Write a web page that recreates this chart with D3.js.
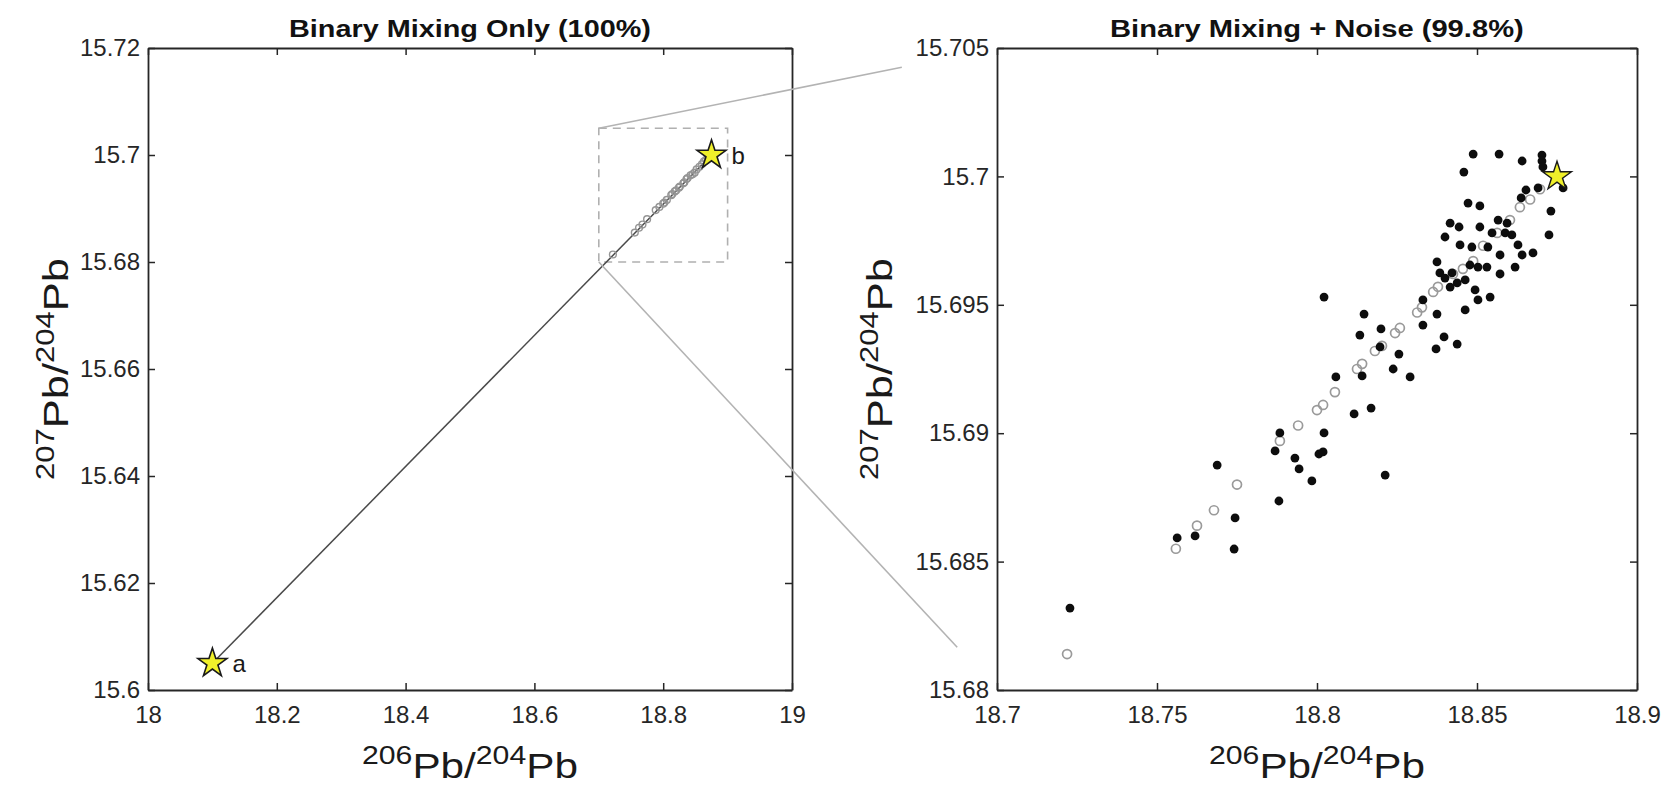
<!DOCTYPE html>
<html><head><meta charset="utf-8">
<script src="https://cdn.jsdelivr.net/npm/d3@7"></script>
<style>
body{margin:0;background:#fff;}
text{font-family:"Liberation Sans",Arial,Helvetica,sans-serif;}
</style>
</head><body>
<svg id="c" width="1671" height="795"></svg>
<script>
// ---------------- data ----------------
const titles = ["Binary Mixing Only (100%)", "Binary Mixing + Noise (99.8%)"];
const endmemberX = [18.1, 18.875];
const endmemberY = [15.605, 15.700];
const endmemberLabel = ["a", "b"];

// binary mixing points (grey open circles)
const mixX = [18.7219, 18.7559, 18.7625, 18.7678, 18.7750, 18.7884, 18.7941, 18.8000, 18.8019, 18.8056,
              18.8125, 18.8141, 18.8181, 18.8203, 18.8244, 18.8259, 18.8313, 18.8328, 18.8363, 18.8378,
              18.8425, 18.8456, 18.8488, 18.8519, 18.8563, 18.8603, 18.8634, 18.8666, 18.8697];
const mixY = [15.6814, 15.6855, 15.6864, 15.6870, 15.6880, 15.6897, 15.6903, 15.6909, 15.6911, 15.6916,
              15.6925, 15.6927, 15.6932, 15.6934, 15.6939, 15.6941, 15.6947, 15.6949, 15.6955, 15.6957,
              15.6962, 15.6964, 15.6967, 15.6973, 15.6978, 15.6983, 15.6988, 15.6991, 15.6995];

// mixing + noise points (black dots)
const noiseX = [18.7228, 18.7563, 18.7619, 18.7688, 18.7741, 18.7744, 18.7869, 18.7881, 18.7884, 18.7931,
                18.7944, 18.7984, 18.8006, 18.8019, 18.8022, 18.8116, 18.8169, 18.8213, 18.8022, 18.8147,
                18.8134, 18.8200, 18.8197, 18.8256, 18.8238, 18.8291, 18.8141, 18.8059, 18.8331, 18.8331,
                18.8375, 18.8397, 18.8438, 18.8372, 18.8463, 18.8503, 18.8541, 18.8494, 18.8416, 18.8488,
                18.8569, 18.8459, 18.8641, 18.8703, 18.8703, 18.8706, 18.8472, 18.8509, 18.8653, 18.8638,
                18.8416, 18.8444, 18.8509, 18.8566, 18.8594, 18.8400, 18.8547, 18.8588, 18.8609, 18.8447,
                18.8484, 18.8534, 18.8628, 18.8572, 18.8675, 18.8641, 18.8725, 18.8731, 18.8769, 18.8691,
                18.8375, 18.8478, 18.8503, 18.8531, 18.8619, 18.8384, 18.8422, 18.8400, 18.8438, 18.8463,
                18.8572];
const noiseY = [15.68319, 15.68592, 15.68600, 15.68876, 15.68549, 15.68670, 15.68931, 15.68736, 15.69001, 15.68903,
                15.68861, 15.68814, 15.68919, 15.68927, 15.69001, 15.69075, 15.69098, 15.68837, 15.69530, 15.69464,
                15.69382, 15.69406, 15.69336, 15.69308, 15.69250, 15.69219, 15.69223, 15.69219, 15.69519, 15.69421,
                15.69464, 15.69375, 15.69347, 15.69328, 15.69480, 15.69519, 15.69530, 15.69558, 15.69569, 15.70087,
                15.70087, 15.70017, 15.70060, 15.70083, 15.70060, 15.70037, 15.69896, 15.69885, 15.69947, 15.69916,
                15.69818, 15.69803, 15.69803, 15.69830, 15.69818, 15.69764, 15.69780, 15.69780, 15.69772, 15.69733,
                15.69725, 15.69725, 15.69733, 15.69694, 15.69702, 15.69694, 15.69772, 15.69865, 15.69955, 15.69955,
                15.69667, 15.69655, 15.69647, 15.69647, 15.69647, 15.69624, 15.69624, 15.69604, 15.69585, 15.69597,
                15.69620];

const leftXDomain = [18, 19];
const leftYDomain = [15.6, 15.72];
const rightXDomain = [18.7, 18.9];
const rightYDomain = [15.68, 15.705];
const leftXTicks = [18, 18.2, 18.4, 18.6, 18.8, 19];
const leftYTicks = [15.6, 15.62, 15.64, 15.66, 15.68, 15.7, 15.72];
const rightXTicks = [18.7, 18.75, 18.8, 18.85, 18.9];
const rightYTicks = [15.68, 15.685, 15.69, 15.695, 15.7, 15.705];
const zoomBoxX = [18.7, 18.9];
const zoomBoxY = [15.68, 15.705];

// ---------------- drawing ----------------
const svg = d3.select("#c");
svg.append("rect").attr("width", 1671).attr("height", 795).attr("fill", "#fff");

const AX = "#262626";
const panels = [
  {x0: 148, x1: 792, y0: 48, y1: 690, xd: leftXDomain, yd: leftYDomain, xt: leftXTicks, yt: leftYTicks, ylabX: 68, title: titles[0], titleW: 362, ylabW: 222},
  {x0: 997, x1: 1637, y0: 48, y1: 690, xd: rightXDomain, yd: rightYDomain, xt: rightXTicks, yt: rightYTicks, ylabX: 892, title: titles[1], titleW: 414, ylabW: 222}
];
panels.forEach(p => {
  p.x = d3.scaleLinear().domain(p.xd).range([p.x0, p.x1]);
  p.y = d3.scaleLinear().domain(p.yd).range([p.y1, p.y0]);
});
const L = panels[0], R = panels[1];

function styleAxis(g, showLabels) {
  g.select(".domain").attr("stroke", AX).attr("stroke-width", 1.8);
  g.selectAll(".tick line").attr("stroke", AX).attr("stroke-width", 1.5);
  g.selectAll(".tick text").attr("fill", AX).attr("font-size", 24)
    .attr("font-family", '"Liberation Sans", Arial, sans-serif');
  if (!showLabels) g.selectAll(".tick text").remove();
}

function drawAxes(p) {
  const fmt = d3.format("");
  const gB = svg.append("g").attr("transform", `translate(0,${p.y1})`)
    .call(d3.axisBottom(p.x).tickValues(p.xt).tickSizeInner(-7).tickSizeOuter(0).tickPadding(16).tickFormat(d => fmt(+d.toFixed(3))));
  styleAxis(gB, true);
  const gT = svg.append("g").attr("transform", `translate(0,${p.y0})`)
    .call(d3.axisTop(p.x).tickValues(p.xt).tickSizeInner(-7).tickSizeOuter(0));
  styleAxis(gT, false);
  const gL = svg.append("g").attr("transform", `translate(${p.x0},0)`)
    .call(d3.axisLeft(p.y).tickValues(p.yt).tickSizeInner(-7).tickSizeOuter(0).tickPadding(8).tickFormat(d => fmt(+d.toFixed(3))));
  styleAxis(gL, true);
  const gR = svg.append("g").attr("transform", `translate(${p.x1},0)`)
    .call(d3.axisRight(p.y).tickValues(p.yt).tickSizeInner(-7).tickSizeOuter(0));
  styleAxis(gR, false);
}

function addIsoText(t, sup1, sup2) {
  t.append("tspan").attr("font-size", 25).attr("dy", -14).text(sup1);
  t.append("tspan").attr("font-size", 35).attr("dy", 14).text("Pb/");
  t.append("tspan").attr("font-size", 25).attr("dy", -14).text(sup2);
  t.append("tspan").attr("font-size", 35).attr("dy", 14).text("Pb");
}

function drawLabels(p) {
  const tt = svg.append("text").attr("font-weight", "bold").attr("font-size", 24)
    .attr("fill", "#111").text(p.title);
  const tw = tt.node().getComputedTextLength();
  const tk = p.titleW / tw;
  tt.attr("transform", `translate(${(p.x0 + p.x1) / 2 - tk * tw / 2},37) scale(${tk},1)`);

  const xl = svg.append("text").attr("fill", "#1a1a1a");
  addIsoText(xl, "206", "204");
  const xw = xl.node().getBBox().width;
  const xk = 216 / xw;
  xl.attr("transform", `translate(${(p.x0 + p.x1) / 2 - xk * xw / 2},778) scale(${xk},1)`);

  const yl = svg.append("text").attr("fill", "#1a1a1a");
  addIsoText(yl, "207", "204");
  const yw = yl.node().getBBox().width;
  const yk = p.ylabW / yw;
  yl.attr("transform", `translate(${p.ylabX},${(p.y0 + p.y1) / 2}) rotate(-90) translate(${-yk * yw / 2},0) scale(${yk},1)`);
}

const star = d3.symbol(d3.symbolStar, 260);

// ---- left panel ----
(function () {
  const p = L;
  svg.append("rect")
    .attr("x", p.x(zoomBoxX[0])).attr("y", p.y(zoomBoxY[1]))
    .attr("width", p.x(zoomBoxX[1]) - p.x(zoomBoxX[0]))
    .attr("height", p.y(zoomBoxY[0]) - p.y(zoomBoxY[1]))
    .attr("fill", "none").attr("stroke", "#b0b0b0").attr("stroke-width", 1.6)
    .attr("stroke-dasharray", "8,6");
  svg.append("path")
    .attr("d", d3.line().x(d => p.x(d[0])).y(d => p.y(d[1]))(endmemberX.map((v, i) => [v, endmemberY[i]])))
    .attr("fill", "none").attr("stroke", "#4a4a4a").attr("stroke-width", 1.5);
  svg.append("g").selectAll("circle").data(mixX).join("circle")
    .attr("cx", d => p.x(d)).attr("cy", (d, i) => p.y(mixY[i])).attr("r", 3.4)
    .attr("fill", "none").attr("stroke", "#959595").attr("stroke-width", 1.4);
  svg.append("g").selectAll("path").data(endmemberX).join("path")
    .attr("d", star)
    .attr("transform", (d, i) => `translate(${p.x(d)},${p.y(endmemberY[i])})`)
    .attr("fill", "#f0f02a").attr("stroke", "#1a1a1a").attr("stroke-width", 1.6);
  svg.append("g").selectAll("text").data(endmemberLabel).join("text")
    .attr("x", (d, i) => p.x(endmemberX[i]) + 20)
    .attr("y", (d, i) => p.y(endmemberY[i]) + 9)
    .attr("font-size", 24).attr("fill", "#1a1a1a").text(d => d);
  drawAxes(p);
  drawLabels(p);
})();

// ---- connector lines ----
(function () {
  const sx = L.x(zoomBoxX[0]);
  const top = [sx, L.y(zoomBoxY[1])], bot = [sx, L.y(zoomBoxY[0])];
  const tgtTop = [R.x0, R.y0], tgtBot = [R.x0, R.y1];
  const tTop = 0.761, tBot = 0.90;
  [[top, tgtTop, tTop], [bot, tgtBot, tBot]].forEach(([a, b, t]) => {
    svg.append("line")
      .attr("x1", a[0]).attr("y1", a[1])
      .attr("x2", a[0] + (b[0] - a[0]) * t).attr("y2", a[1] + (b[1] - a[1]) * t)
      .attr("stroke", "#b3b3b3").attr("stroke-width", 1.6);
  });
})();

// ---- right panel ----
(function () {
  const p = R;
  svg.append("g").selectAll("circle").data(mixX).join("circle")
    .attr("cx", d => p.x(d)).attr("cy", (d, i) => p.y(mixY[i])).attr("r", 4.5)
    .attr("fill", "none").attr("stroke", "#9a9a9a").attr("stroke-width", 1.7);
  svg.append("g").selectAll("circle").data(noiseX).join("circle")
    .attr("cx", d => p.x(d)).attr("cy", (d, i) => p.y(noiseY[i])).attr("r", 4.4)
    .attr("fill", "#0d0d0d");
  svg.append("path").attr("d", star)
    .attr("transform", `translate(${p.x(endmemberX[1])},${p.y(endmemberY[1])})`)
    .attr("fill", "#f0f02a").attr("stroke", "#1a1a1a").attr("stroke-width", 1.4);
  drawAxes(p);
  drawLabels(p);
})();
</script>
</body></html>
